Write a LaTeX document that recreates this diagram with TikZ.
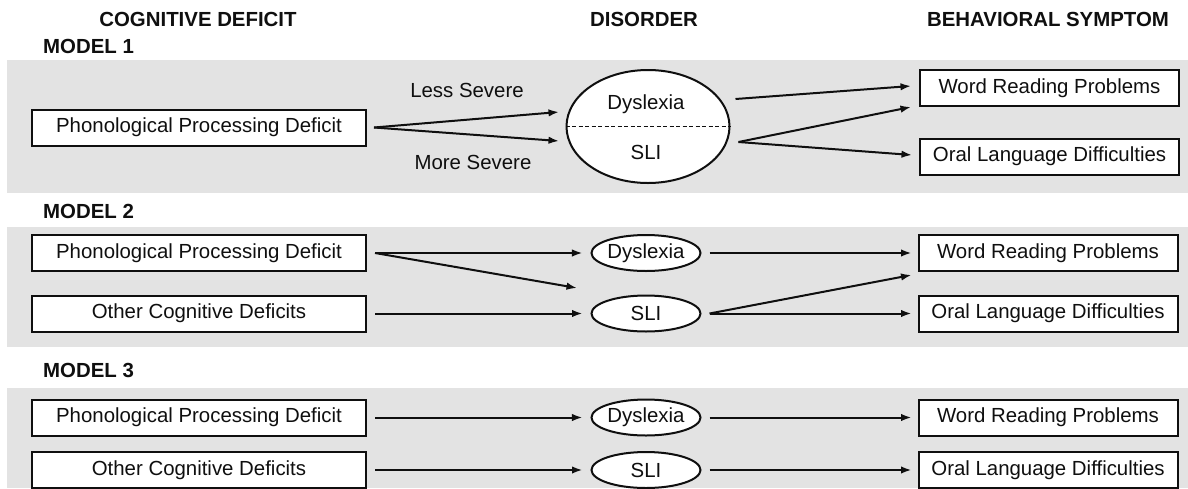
\documentclass[tikz,border=0pt]{standalone}
\usepackage{fontspec}
\setmainfont{Liberation Sans}
\usetikzlibrary{arrows.meta,shapes.geometric}
\definecolor{bandgray}{RGB}{227,227,227}
\definecolor{ink}{RGB}{15,15,15}
\tikzset{
  txt/.style={font=\fontsize{20.4}{24}\selectfont, text=ink, inner sep=0pt},
  head/.style={font=\bfseries\fontsize{20.4}{24}\selectfont, text=ink, inner sep=0pt},
  leftbox/.style={txt, draw=ink, line width=2pt, fill=white, minimum width=334pt, minimum height=36pt},
  rightbox/.style={txt, draw=ink, line width=2pt, fill=white, minimum width=259pt, minimum height=36pt},
  smallell/.style={txt, ellipse, draw=ink, line width=2pt, fill=white, minimum width=109pt, minimum height=36pt},
  bigell/.style={ellipse, draw=ink, line width=2pt, fill=white, minimum width=163pt, minimum height=113pt, inner sep=0pt},
  arr/.style={draw=ink, line width=2pt, -{Latex[length=10.5pt,width=7.5pt]}},
  band/.style={fill=bandgray, draw=none}
}
\begin{document}
\begin{tikzpicture}[x=1pt,y=-1pt]
\useasboundingbox (0,0) rectangle (1188,488);
\fill[white] (0,0) rectangle (1188,488);
% bands
\path[band] (7,60) rectangle (1188,193);
\path[band] (7,227) rectangle (1188,347);
\path[band] (7,388) rectangle (1188,488);
% headers
\node[head] (hcog) at (198,19) {COGNITIVE DEFICIT};
\node[head] (hdis) at (644,19) {DISORDER};
\node[head] (hbeh) at (1048,19) {BEHAVIORAL SYMPTOM};
\node[head, anchor=west] (m1) at (43,46) {MODEL 1};
\node[head, anchor=west] (m2) at (43,211) {MODEL 2};
\node[head, anchor=west] (m3) at (43,370) {MODEL 3};
% model 1
\node[leftbox] (p1) at (199,127.5) {Phonological Processing Deficit};
\node[bigell] (e1) at (648,126.5) {};
\draw[ink, line width=1.4pt, dash pattern=on 4pt off 2.5pt] (e1.west) -- (e1.east);
\node[txt] (dys1) at (646,104) {Dyslexia};
\node[txt] (sli1) at (646,152) {SLI};
\node[txt] (less) at (467,90) {Less Severe};
\node[txt] (more) at (473,162) {More Severe};
\node[rightbox] (w1) at (1049.5,88) {Word Reading Problems};
\node[rightbox] (o1) at (1049.5,156.5) {Oral Language Difficulties};
\draw[arr] ([shift={(7,0)}]p1.east) -- ([shift={(-6.5,-14.5)}]e1.west);
\draw[arr] ([shift={(7,0)}]p1.east) -- ([shift={(-6.5,14.5)}]e1.west);
\draw[arr] ([shift={(5,-27.5)}]e1.east) -- ([shift={(-8,-2)}]w1.west);
\draw[arr] ([shift={(8,15.5)}]e1.east) -- ([shift={(-8,19)}]w1.west);
\draw[arr] ([shift={(8,15.5)}]e1.east) -- ([shift={(-7,-1.5)}]o1.west);
% model 2
\node[leftbox] (p2) at (199,253) {Phonological Processing Deficit};
\node[leftbox] (q2) at (199,313.5) {Other Cognitive Deficits};
\node[smallell] (d2) at (646,253) {Dyslexia};
\node[smallell] (s2) at (646,313.5) {SLI};
\node[rightbox] (w2) at (1048,253) {Word Reading Problems};
\node[rightbox] (o2) at (1048,313.5) {Oral Language Difficulties};
\draw[arr] ([xshift=8pt]p2.east) -- ([xshift=-8pt]d2.west);
\draw[arr] ([xshift=8pt]p2.east) -- ([shift={(-13.5,-25.5)}]s2.west);
\draw[arr] ([xshift=8pt]q2.east) -- ([xshift=-8pt]s2.west);
\draw[arr] ([xshift=8pt]d2.east) -- ([xshift=-6pt]w2.west);
\draw[arr] ([xshift=8pt]s2.east) -- ([shift={(-6,22)}]w2.west);
\draw[arr] ([xshift=8pt]s2.east) -- ([xshift=-6pt]o2.west);
% model 3
\node[leftbox] (p3) at (199,417.5) {Phonological Processing Deficit};
\node[leftbox] (q3) at (199,470) {Other Cognitive Deficits};
\node[smallell] (d3) at (646,417.5) {Dyslexia};
\node[smallell] (s3) at (646,470) {SLI};
\node[rightbox] (w3) at (1048,417.5) {Word Reading Problems};
\node[rightbox] (o3) at (1048,470) {Oral Language Difficulties};
\draw[arr] ([xshift=8pt]p3.east) -- ([xshift=-8pt]d3.west);
\draw[arr] ([xshift=8pt]q3.east) -- ([xshift=-8pt]s3.west);
\draw[arr] ([xshift=8pt]d3.east) -- ([xshift=-6pt]w3.west);
\draw[arr] ([xshift=8pt]s3.east) -- ([xshift=-6pt]o3.west);
\end{tikzpicture}
\end{document}
